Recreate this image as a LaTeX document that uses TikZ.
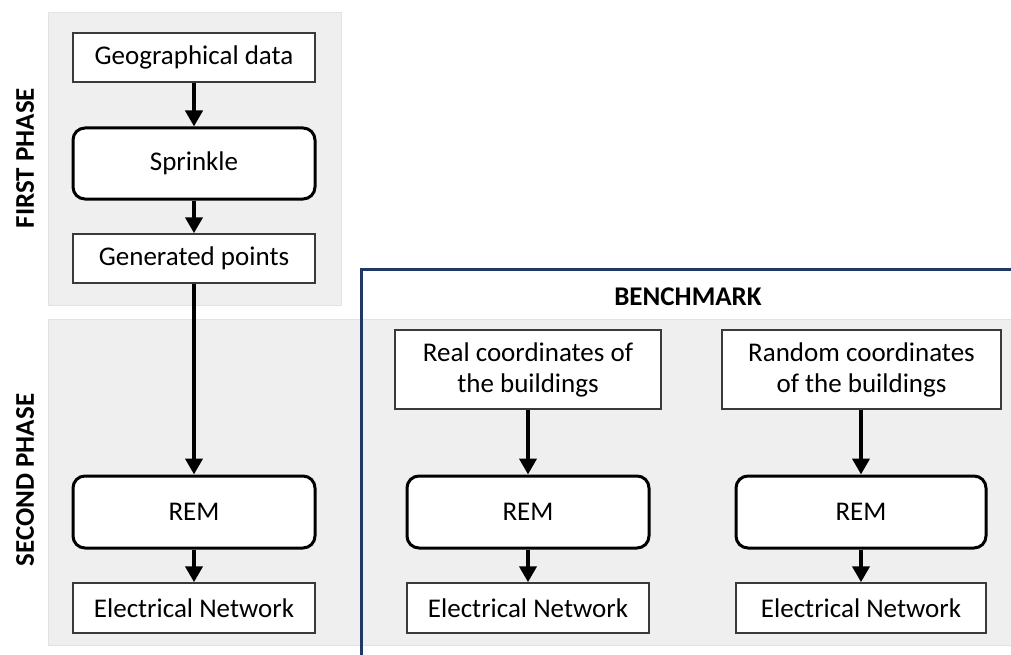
\documentclass[tikz,border=0pt]{standalone}
\usepackage{fontspec}
\setmainfont{Carlito}
\usetikzlibrary{arrows.meta}
\definecolor{phasefill}{HTML}{EFEFEF}
\definecolor{phaseline}{HTML}{E2E2E2}
\definecolor{benchblue}{HTML}{1F3864}
\definecolor{boxline}{HTML}{3A3A3A}
\tikzset{
  phase/.style={fill=phasefill, draw=phaseline, line width=0.8pt},
  databox/.style={draw=boxline, fill=white, line width=1.5pt, minimum width=242pt,
    minimum height=49pt, inner sep=2pt, align=center, font=\fontsize{27}{31}\selectfont},
  procbox/.style={draw=black, fill=white, line width=3pt, rounded corners=12pt,
    minimum width=242pt, minimum height=72pt, inner sep=2pt, font=\fontsize{27}{31}\selectfont},
  flow/.style={line width=4.5pt, -{Triangle[width=17pt,length=16pt]}},
  phaselabel/.style={rotate=90, font=\bfseries\fontsize{27}{30}\selectfont},
  benchline/.style={draw=benchblue, line width=3pt}
}
\begin{document}
\begin{tikzpicture}[x=1pt, y=-1pt]
  \useasboundingbox (0,0) rectangle (1011,655);

  % shaded phase panels
  \draw[phase] (48,12) rectangle (341,305);
  \draw[phase] (48,319) rectangle (1012,645);

  % phase titles
  \node[phaselabel] (firstlbl) at (25,158) {FIRST PHASE};
  \node[phaselabel] (secondlbl) at (25,480) {SECOND PHASE};

  % benchmark frame (top and left sides)
  \coordinate (bTR) at (1012,269);
  \coordinate (bTL) at (361,269);
  \coordinate (bBL) at (361,656);
  \draw[benchline] (bTR) -- (bTL) -- (bBL);
  \node[font=\bfseries\fontsize{27}{30}\selectfont] (bench) at (688,297) {BENCHMARK};

  % first phase and left column
  \node[databox] (geo) at (194,57.5) {Geographical data};
  \node[procbox, minimum height=71pt] (sprinkle) at (194,163.5) {Sprinkle};
  \node[databox] (gen) at (194,258.5) {Generated points};
  \node[procbox] (rem1) at (194,512) {REM};
  \node[databox, minimum height=50pt] (net1) at (194,608) {Electrical Network};

  % benchmark columns
  \node[databox, minimum width=266pt, minimum height=79pt] (real) at (528,369.5)
    {Real coordinates of\\the buildings};
  \node[databox, minimum width=279pt, minimum height=79pt] (rand) at (861.5,369.5)
    {Random coordinates\\of the buildings};
  \node[procbox] (rem2) at (528,512) {REM};
  \node[procbox, minimum width=250pt] (rem3) at (861,512) {REM};
  \node[databox, minimum height=50pt] (net2) at (528,608) {Electrical Network};
  \node[databox, minimum width=250pt, minimum height=50pt] (net3) at (861,608) {Electrical Network};

  % connectors
  \draw[flow] (geo) -- (sprinkle);
  \draw[flow] (sprinkle) -- (gen);
  \draw[flow] (gen) -- (rem1);
  \draw[flow] (rem1) -- (net1);
  \draw[flow] (real) -- (rem2);
  \draw[flow] (rem2) -- (net2);
  \draw[flow] (rand.south -| rem3.north) -- (rem3);
  \draw[flow] (rem3) -- (net3);
\end{tikzpicture}
\end{document}
